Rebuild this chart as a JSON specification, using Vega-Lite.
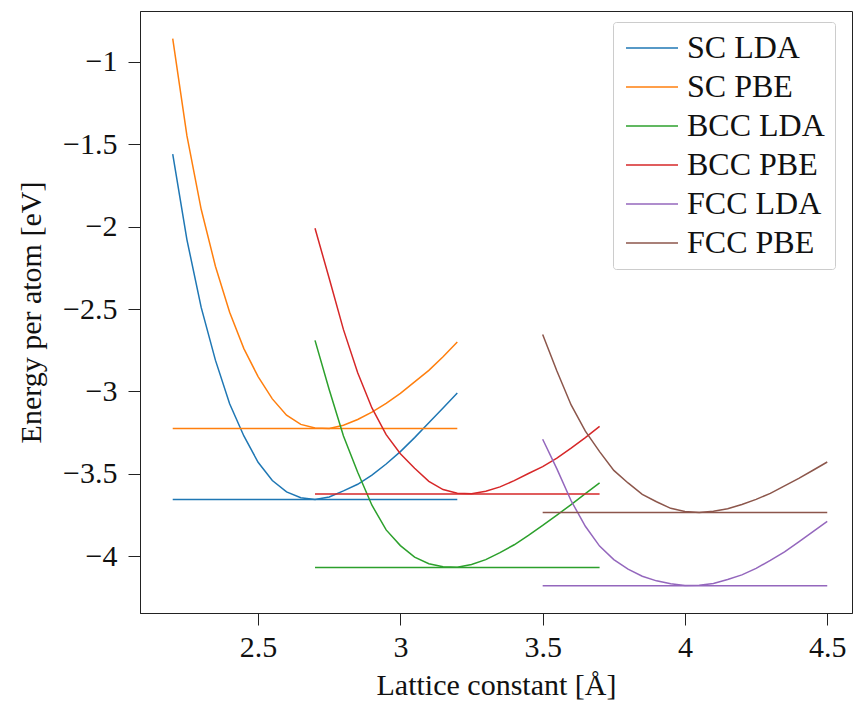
{
  "$schema": "https://vega.github.io/schema/vega-lite/v6.json",
  "width": 712,
  "height": 602,
  "autosize": {"type": "none"},
  "padding": {"left": 140, "top": 11, "right": 2, "bottom": 94},
  "background": "white",
  "config": {
    "view": {"stroke": "#222222", "strokeWidth": 1},
    "font": "Liberation Serif",
    "axis": {
      "labelFont": "Liberation Serif",
      "titleFont": "Liberation Serif",
      "labelFontSize": 30,
      "titleFontSize": 30,
      "titleFontWeight": "normal",
      "labelColor": "#111111",
      "titleColor": "#111111",
      "domainColor": "#222222",
      "tickColor": "#222222",
      "grid": false,
      "tickSize": 12,
      "labelFlush": false,
      "labelOverlap": false
    },
    "legend": {
      "labelFont": "Liberation Serif",
      "labelFontSize": 32,
      "labelColor": "#111111"
    }
  },
  "data": {
    "values": [
      {"a": 2.20, "E": -1.56, "s": "SC LDA", "k": "curve"},
      {"a": 2.25, "E": -2.08, "s": "SC LDA", "k": "curve"},
      {"a": 2.30, "E": -2.49, "s": "SC LDA", "k": "curve"},
      {"a": 2.35, "E": -2.81, "s": "SC LDA", "k": "curve"},
      {"a": 2.40, "E": -3.075, "s": "SC LDA", "k": "curve"},
      {"a": 2.45, "E": -3.27, "s": "SC LDA", "k": "curve"},
      {"a": 2.50, "E": -3.43, "s": "SC LDA", "k": "curve"},
      {"a": 2.55, "E": -3.54, "s": "SC LDA", "k": "curve"},
      {"a": 2.60, "E": -3.609, "s": "SC LDA", "k": "curve"},
      {"a": 2.65, "E": -3.645, "s": "SC LDA", "k": "curve"},
      {"a": 2.70, "E": -3.655, "s": "SC LDA", "k": "curve"},
      {"a": 2.75, "E": -3.64, "s": "SC LDA", "k": "curve"},
      {"a": 2.80, "E": -3.603, "s": "SC LDA", "k": "curve"},
      {"a": 2.85, "E": -3.563, "s": "SC LDA", "k": "curve"},
      {"a": 2.90, "E": -3.508, "s": "SC LDA", "k": "curve"},
      {"a": 2.95, "E": -3.44, "s": "SC LDA", "k": "curve"},
      {"a": 3.00, "E": -3.365, "s": "SC LDA", "k": "curve"},
      {"a": 3.05, "E": -3.28, "s": "SC LDA", "k": "curve"},
      {"a": 3.10, "E": -3.19, "s": "SC LDA", "k": "curve"},
      {"a": 3.15, "E": -3.10, "s": "SC LDA", "k": "curve"},
      {"a": 3.20, "E": -3.01, "s": "SC LDA", "k": "curve"},
      {"a": 2.20, "E": -3.655, "s": "SC LDA", "k": "min"},
      {"a": 3.20, "E": -3.655, "s": "SC LDA", "k": "min"},

      {"a": 2.20, "E": -0.86, "s": "SC PBE", "k": "curve"},
      {"a": 2.25, "E": -1.45, "s": "SC PBE", "k": "curve"},
      {"a": 2.30, "E": -1.895, "s": "SC PBE", "k": "curve"},
      {"a": 2.35, "E": -2.24, "s": "SC PBE", "k": "curve"},
      {"a": 2.40, "E": -2.52, "s": "SC PBE", "k": "curve"},
      {"a": 2.45, "E": -2.74, "s": "SC PBE", "k": "curve"},
      {"a": 2.50, "E": -2.91, "s": "SC PBE", "k": "curve"},
      {"a": 2.55, "E": -3.045, "s": "SC PBE", "k": "curve"},
      {"a": 2.60, "E": -3.144, "s": "SC PBE", "k": "curve"},
      {"a": 2.65, "E": -3.20, "s": "SC PBE", "k": "curve"},
      {"a": 2.70, "E": -3.222, "s": "SC PBE", "k": "curve"},
      {"a": 2.75, "E": -3.225, "s": "SC PBE", "k": "curve"},
      {"a": 2.80, "E": -3.205, "s": "SC PBE", "k": "curve"},
      {"a": 2.85, "E": -3.17, "s": "SC PBE", "k": "curve"},
      {"a": 2.90, "E": -3.125, "s": "SC PBE", "k": "curve"},
      {"a": 2.95, "E": -3.072, "s": "SC PBE", "k": "curve"},
      {"a": 3.00, "E": -3.012, "s": "SC PBE", "k": "curve"},
      {"a": 3.05, "E": -2.942, "s": "SC PBE", "k": "curve"},
      {"a": 3.10, "E": -2.872, "s": "SC PBE", "k": "curve"},
      {"a": 3.15, "E": -2.79, "s": "SC PBE", "k": "curve"},
      {"a": 3.20, "E": -2.70, "s": "SC PBE", "k": "curve"},
      {"a": 2.20, "E": -3.225, "s": "SC PBE", "k": "min"},
      {"a": 3.20, "E": -3.225, "s": "SC PBE", "k": "min"},

      {"a": 2.70, "E": -2.69, "s": "BCC LDA", "k": "curve"},
      {"a": 2.75, "E": -2.99, "s": "BCC LDA", "k": "curve"},
      {"a": 2.80, "E": -3.27, "s": "BCC LDA", "k": "curve"},
      {"a": 2.85, "E": -3.49, "s": "BCC LDA", "k": "curve"},
      {"a": 2.90, "E": -3.69, "s": "BCC LDA", "k": "curve"},
      {"a": 2.95, "E": -3.84, "s": "BCC LDA", "k": "curve"},
      {"a": 3.00, "E": -3.935, "s": "BCC LDA", "k": "curve"},
      {"a": 3.05, "E": -4.005, "s": "BCC LDA", "k": "curve"},
      {"a": 3.10, "E": -4.045, "s": "BCC LDA", "k": "curve"},
      {"a": 3.15, "E": -4.063, "s": "BCC LDA", "k": "curve"},
      {"a": 3.20, "E": -4.066, "s": "BCC LDA", "k": "curve"},
      {"a": 3.25, "E": -4.05, "s": "BCC LDA", "k": "curve"},
      {"a": 3.30, "E": -4.02, "s": "BCC LDA", "k": "curve"},
      {"a": 3.35, "E": -3.978, "s": "BCC LDA", "k": "curve"},
      {"a": 3.40, "E": -3.93, "s": "BCC LDA", "k": "curve"},
      {"a": 3.45, "E": -3.873, "s": "BCC LDA", "k": "curve"},
      {"a": 3.50, "E": -3.813, "s": "BCC LDA", "k": "curve"},
      {"a": 3.55, "E": -3.75, "s": "BCC LDA", "k": "curve"},
      {"a": 3.60, "E": -3.686, "s": "BCC LDA", "k": "curve"},
      {"a": 3.65, "E": -3.62, "s": "BCC LDA", "k": "curve"},
      {"a": 3.70, "E": -3.555, "s": "BCC LDA", "k": "curve"},
      {"a": 2.70, "E": -4.068, "s": "BCC LDA", "k": "min"},
      {"a": 3.70, "E": -4.068, "s": "BCC LDA", "k": "min"},

      {"a": 2.70, "E": -2.01, "s": "BCC PBE", "k": "curve"},
      {"a": 2.75, "E": -2.315, "s": "BCC PBE", "k": "curve"},
      {"a": 2.80, "E": -2.625, "s": "BCC PBE", "k": "curve"},
      {"a": 2.85, "E": -2.887, "s": "BCC PBE", "k": "curve"},
      {"a": 2.90, "E": -3.10, "s": "BCC PBE", "k": "curve"},
      {"a": 2.95, "E": -3.262, "s": "BCC PBE", "k": "curve"},
      {"a": 3.00, "E": -3.378, "s": "BCC PBE", "k": "curve"},
      {"a": 3.05, "E": -3.466, "s": "BCC PBE", "k": "curve"},
      {"a": 3.10, "E": -3.545, "s": "BCC PBE", "k": "curve"},
      {"a": 3.15, "E": -3.595, "s": "BCC PBE", "k": "curve"},
      {"a": 3.20, "E": -3.617, "s": "BCC PBE", "k": "curve"},
      {"a": 3.25, "E": -3.621, "s": "BCC PBE", "k": "curve"},
      {"a": 3.30, "E": -3.605, "s": "BCC PBE", "k": "curve"},
      {"a": 3.35, "E": -3.579, "s": "BCC PBE", "k": "curve"},
      {"a": 3.40, "E": -3.541, "s": "BCC PBE", "k": "curve"},
      {"a": 3.45, "E": -3.498, "s": "BCC PBE", "k": "curve"},
      {"a": 3.50, "E": -3.456, "s": "BCC PBE", "k": "curve"},
      {"a": 3.55, "E": -3.405, "s": "BCC PBE", "k": "curve"},
      {"a": 3.60, "E": -3.344, "s": "BCC PBE", "k": "curve"},
      {"a": 3.65, "E": -3.28, "s": "BCC PBE", "k": "curve"},
      {"a": 3.70, "E": -3.212, "s": "BCC PBE", "k": "curve"},
      {"a": 2.70, "E": -3.622, "s": "BCC PBE", "k": "min"},
      {"a": 3.70, "E": -3.622, "s": "BCC PBE", "k": "min"},

      {"a": 3.50, "E": -3.29, "s": "FCC LDA", "k": "curve"},
      {"a": 3.55, "E": -3.47, "s": "FCC LDA", "k": "curve"},
      {"a": 3.60, "E": -3.663, "s": "FCC LDA", "k": "curve"},
      {"a": 3.65, "E": -3.818, "s": "FCC LDA", "k": "curve"},
      {"a": 3.70, "E": -3.938, "s": "FCC LDA", "k": "curve"},
      {"a": 3.75, "E": -4.02, "s": "FCC LDA", "k": "curve"},
      {"a": 3.80, "E": -4.078, "s": "FCC LDA", "k": "curve"},
      {"a": 3.85, "E": -4.121, "s": "FCC LDA", "k": "curve"},
      {"a": 3.90, "E": -4.149, "s": "FCC LDA", "k": "curve"},
      {"a": 3.95, "E": -4.167, "s": "FCC LDA", "k": "curve"},
      {"a": 4.00, "E": -4.177, "s": "FCC LDA", "k": "curve"},
      {"a": 4.05, "E": -4.175, "s": "FCC LDA", "k": "curve"},
      {"a": 4.10, "E": -4.165, "s": "FCC LDA", "k": "curve"},
      {"a": 4.15, "E": -4.141, "s": "FCC LDA", "k": "curve"},
      {"a": 4.20, "E": -4.113, "s": "FCC LDA", "k": "curve"},
      {"a": 4.25, "E": -4.073, "s": "FCC LDA", "k": "curve"},
      {"a": 4.30, "E": -4.025, "s": "FCC LDA", "k": "curve"},
      {"a": 4.35, "E": -3.973, "s": "FCC LDA", "k": "curve"},
      {"a": 4.40, "E": -3.912, "s": "FCC LDA", "k": "curve"},
      {"a": 4.45, "E": -3.85, "s": "FCC LDA", "k": "curve"},
      {"a": 4.50, "E": -3.788, "s": "FCC LDA", "k": "curve"},
      {"a": 3.50, "E": -4.178, "s": "FCC LDA", "k": "min"},
      {"a": 4.50, "E": -4.178, "s": "FCC LDA", "k": "min"},

      {"a": 3.50, "E": -2.655, "s": "FCC PBE", "k": "curve"},
      {"a": 3.55, "E": -2.876, "s": "FCC PBE", "k": "curve"},
      {"a": 3.60, "E": -3.082, "s": "FCC PBE", "k": "curve"},
      {"a": 3.65, "E": -3.241, "s": "FCC PBE", "k": "curve"},
      {"a": 3.70, "E": -3.365, "s": "FCC PBE", "k": "curve"},
      {"a": 3.75, "E": -3.479, "s": "FCC PBE", "k": "curve"},
      {"a": 3.80, "E": -3.555, "s": "FCC PBE", "k": "curve"},
      {"a": 3.85, "E": -3.624, "s": "FCC PBE", "k": "curve"},
      {"a": 3.90, "E": -3.669, "s": "FCC PBE", "k": "curve"},
      {"a": 3.95, "E": -3.709, "s": "FCC PBE", "k": "curve"},
      {"a": 4.00, "E": -3.728, "s": "FCC PBE", "k": "curve"},
      {"a": 4.05, "E": -3.734, "s": "FCC PBE", "k": "curve"},
      {"a": 4.10, "E": -3.727, "s": "FCC PBE", "k": "curve"},
      {"a": 4.15, "E": -3.712, "s": "FCC PBE", "k": "curve"},
      {"a": 4.20, "E": -3.686, "s": "FCC PBE", "k": "curve"},
      {"a": 4.25, "E": -3.655, "s": "FCC PBE", "k": "curve"},
      {"a": 4.30, "E": -3.618, "s": "FCC PBE", "k": "curve"},
      {"a": 4.35, "E": -3.573, "s": "FCC PBE", "k": "curve"},
      {"a": 4.40, "E": -3.527, "s": "FCC PBE", "k": "curve"},
      {"a": 4.45, "E": -3.478, "s": "FCC PBE", "k": "curve"},
      {"a": 4.50, "E": -3.428, "s": "FCC PBE", "k": "curve"},
      {"a": 3.50, "E": -3.734, "s": "FCC PBE", "k": "min"},
      {"a": 4.50, "E": -3.734, "s": "FCC PBE", "k": "min"}
    ]
  },
  "mark": {"type": "line", "strokeWidth": 1.5, "clip": true},
  "encoding": {
    "x": {
      "field": "a",
      "type": "quantitative",
      "scale": {"domain": [2.085, 4.587], "nice": false, "zero": false},
      "axis": {"values": [2.5, 3, 3.5, 4, 4.5], "format": "~g", "title": "Lattice constant [Å]", "labelPadding": 7, "titlePadding": 8}
    },
    "y": {
      "field": "E",
      "type": "quantitative",
      "scale": {"domain": [-4.344, -0.692], "nice": false, "zero": false},
      "axis": {"values": [-4, -3.5, -3, -2.5, -2, -1.5, -1], "format": "~g", "title": "Energy per atom [eV]", "labelPadding": 11, "titlePadding": 16}
    },
    "color": {
      "field": "s",
      "type": "nominal",
      "scale": {
        "domain": ["SC LDA", "SC PBE", "BCC LDA", "BCC PBE", "FCC LDA", "FCC PBE"],
        "range": ["#1f77b4", "#ff7f0e", "#2ca02c", "#d62728", "#9467bd", "#8c564b"]
      },
      "legend": {
        "title": null,
        "orient": "none",
        "legendX": 473,
        "legendY": 11,
        "symbolType": "M-1,0H3",
        "symbolSize": 676,
        "symbolStrokeWidth": 1.5,
        "labelOffset": 32,
        "rowPadding": 7,
        "padding": 10,
        "strokeColor": "#cccccc",
        "fillColor": "white",
        "cornerRadius": 3
      }
    },
    "detail": {"field": "k", "type": "nominal"}
  }
}
